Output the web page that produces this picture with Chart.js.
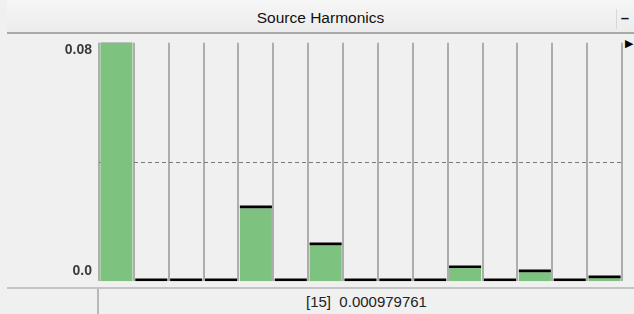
<!DOCTYPE html>
<html>
<head>
<meta charset="utf-8">
<script src="https://cdn.jsdelivr.net/npm/chart.js@4/dist/chart.umd.min.js"></script>
<style>
  body { margin: 0; background: #f0f0f0; font-family: "Liberation Sans", Arial, sans-serif; }
  #wrap { position: relative; width: 634px; height: 314px; overflow: hidden; }
  #title {
    position: absolute; left: 7px; top: 0; width: 627px; height: 32px;
    background: linear-gradient(#f6f6f6, #ececec);
    border-bottom: 2px solid #a9a9a9;
    text-align: center; line-height: 36px; font-size: 15.5px; color: #111;
  }
  #minBtn {
    position: absolute; right: 1px; top: 9px; width: 16px; height: 20px;
    font-size: 15px; line-height: 18px; text-align: center; font-weight: bold; color: #111;
    border-left: 1px solid #d8d8d8;
  }
  #arrow { position: absolute; left: 625px; top: 37px; font-size: 11px; color: #000; }
  #plot { position: absolute; left: 0; top: 28px; width: 634px; height: 268px; }
  #status {
    position: absolute; left: 0; top: 287px; width: 634px; height: 27px;
    background: #f0f0f0;
  }
  #statusLine { position: absolute; left: 7px; right: 0; top: 0; height: 2px; background: #c4c4c4; }
  #statusDiv { position: absolute; left: 97px; top: 2px; width: 2px; height: 25px; background: #b8b8b8; }
  #statusText {
    position: absolute; left: 99px; right: 0; top: 2px; text-align: center;
    line-height: 25px; font-size: 15px; color: #222;
  }
</style>
</head>
<body>
<div id="wrap">
  <div id="title">Source Harmonics<div id="minBtn">–</div></div>
  <div id="arrow">▶</div>
  <div id="plot"><canvas id="harmChart"></canvas></div>
  <div id="status"><div id="statusLine"></div><div id="statusDiv"></div><div id="statusText">[15]&nbsp; 0.000979761</div></div>
</div>
<script>
// Harmonic orders and magnitudes
const harmonics = ['1', '2', '3', '4', '5', '6', '7', '8', '9', '10', '11', '12', '13', '14', '15'];
const magnitudes = [0.08, 0, 0, 0, 0.0245, 0, 0.0121, 0, 0, 0, 0.0044, 0, 0.003, 0, 0.00098];
const yTicks = [0, 0.08];
const yTickLabels = ['0.0', '0.08'];
const limitLevel = 0.04;
const markerSize = 0.0009;

// black cap on top of each bar
const markers = magnitudes.map(v => [v, v + markerSize]);

// dashed limit line behind the bars
const limitLine = {
  id: 'limitLine',
  beforeDatasetsDraw(chart) {
    const { ctx, chartArea, scales } = chart;
    const y = Math.round(scales.y.getPixelForValue(limitLevel)) + 0.5;
    ctx.save();
    ctx.strokeStyle = '#7a7a7a';
    ctx.lineWidth = 1;
    ctx.setLineDash([4, 3]);
    ctx.beginPath();
    ctx.moveTo(chartArea.left, y);
    ctx.lineTo(chartArea.right, y);
    ctx.stroke();
    ctx.restore();
  }
};

// y labels sit inside the axis range: max hangs from the top, min rests on the bottom
const yLabels = {
  id: 'yLabels',
  afterDraw(chart) {
    const { ctx, scales } = chart;
    ctx.save();
    ctx.fillStyle = '#3a3a3a';
    ctx.font = 'bold 14px "Liberation Sans", Arial, sans-serif';
    ctx.textAlign = 'right';
    yTicks.forEach((v, i) => {
      const y = scales.y.getPixelForValue(v);
      ctx.textBaseline = v === scales.y.max ? 'top' : 'bottom';
      ctx.fillText(yTickLabels[i], 92, v === scales.y.max ? y : y - 3);
    });
    ctx.restore();
  }
};

const ctx = document.getElementById('harmChart').getContext('2d');
new Chart(ctx, {
  type: 'bar',
  data: {
    labels: harmonics,
    datasets: [{
      label: 'Magnitude',
      data: magnitudes,
      backgroundColor: '#7dc27f',
      borderWidth: 0,
      barPercentage: 0.92,
      categoryPercentage: 1,
      grouped: false,
      clip: 0,
      order: 2
    }, {
      label: 'Cap',
      data: markers,
      backgroundColor: '#000000',
      borderWidth: 0,
      barPercentage: 0.92,
      categoryPercentage: 1,
      grouped: false,
      clip: 0,
      order: 1
    }]
  },
  options: {
    responsive: true,
    maintainAspectRatio: false,
    animation: false,
    layout: { padding: { top: 1, right: 12, left: 0, bottom: 0 } },
    plugins: {
      legend: { display: false },
      tooltip: { enabled: false },
      title: { display: false }
    },
    scales: {
      x: {
        offset: true,
        ticks: { display: false },
        grid: { offset: true, color: '#adadad', lineWidth: 2, drawTicks: false },
        border: { display: false },
        afterFit(scale) { scale.height = 0; }
      },
      y: {
        min: 0,
        max: 0.08,
        afterBuildTicks(scale) { scale.ticks = yTicks.map(v => ({ value: v })); },
        afterFit(scale) { scale.width = 99; },
        ticks: {
          padding: 7,
          color: 'rgba(0,0,0,0)',
          font: { family: 'Liberation Sans', size: 13, weight: 'bold' },
          callback: (v) => yTickLabels[yTicks.indexOf(v)]
        },
        grid: { display: false },
        border: { display: false }
      }
    }
  },
  plugins: [limitLine, yLabels]
});
</script>
</body>
</html>
